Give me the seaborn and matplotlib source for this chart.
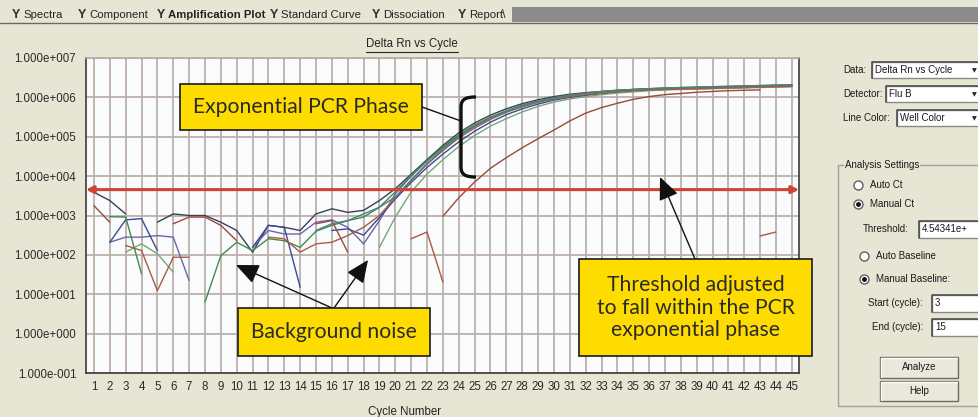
import numpy as np
import pandas as pd
import matplotlib
matplotlib.use("Agg")
import matplotlib.pyplot as plt
import seaborn as sns
from matplotlib.patches import Rectangle, FancyArrowPatch, PathPatch
from matplotlib.path import Path
from matplotlib.lines import Line2D
from matplotlib.ticker import NullLocator, FixedLocator

nan = np.nan

# ---------------- data (log10 Delta Rn) ----------------
cycles = list(range(1, 46))

well_dark = [3.59, 3.38, 3.04, nan, 2.83, 3.04, 3.00, 3.00, 2.83, 2.62,
             2.07, 2.75, 2.70, 2.62, 3.04, 3.17, 3.08, 3.13, 3.38, 3.68,
             4.05, 4.42, 4.78, 5.10, 5.35, 5.55, 5.71, 5.84, 5.94, 6.02,
             6.08, 6.12, 6.15, 6.18, 6.20, 6.22, 6.23, 6.24, 6.25, 6.26,
             6.27, 6.28, 6.29, 6.30, 6.31]
well_purple = [nan, 2.32, 2.45, 2.45, 2.49, 2.45, 1.35, nan, nan, nan,
               2.19, 2.62, 2.53, 2.53, 2.83, 2.89, 2.70, 2.28, 2.87, 3.55,
               4.00, 4.38, 4.72, 5.03, 5.28, 5.48, 5.65, 5.79, 5.90, 5.98,
               6.05, 6.10, 6.14, 6.17, 6.19, 6.21, 6.22, 6.23, 6.24, 6.25,
               6.26, 6.27, 6.28, 6.29, 6.30]
well_blue = [nan, 2.32, 2.89, 2.92, 2.11, nan, nan, nan, nan, nan,
             2.19, 2.75, 2.70, 1.18, nan, 2.62, 2.66, 2.50, 2.95, 3.42,
             3.84, 4.22, 4.56, 4.87, 5.14, 5.37, 5.56, 5.71, 5.83, 5.93,
             6.00, 6.05, 6.09, 6.13, 6.16, 6.18, 6.20, 6.21, 6.22, 6.23,
             6.24, 6.25, 6.26, 6.27, 6.28]
well_green = [nan, 2.97, 2.96, 1.52, nan, nan, nan, 0.80, 1.98, 2.32,
              2.11, 2.41, 2.36, 2.19, 2.60, 2.75, 2.87, 2.96, 3.21, 3.60,
              4.02, 4.40, 4.74, 5.05, 5.30, 5.50, 5.66, 5.80, 5.91, 5.99,
              6.06, 6.11, 6.15, 6.18, 6.20, 6.22, 6.24, 6.25, 6.26, 6.27,
              6.28, 6.29, 6.30, 6.31, 6.32]
well_lightgreen = [nan, nan, 2.07, 2.28, 2.03, 1.56, nan, nan, nan, nan,
                   nan, nan, nan, nan, nan, nan, nan, nan, 2.19, 2.96,
                   3.60, 4.05, 4.42, 4.75, 5.03, 5.27, 5.46, 5.63, 5.77, 5.88,
                   5.96, 6.02, 6.07, 6.11, 6.14, 6.17, 6.19, 6.20, 6.21, 6.22,
                   6.23, 6.24, 6.25, 6.26, 6.27]
well_brown = [nan, nan, 2.24, 2.11, 1.09, 1.94, 1.94, nan, nan, nan,
              nan, 2.45, 2.41, 2.07, 2.28, 2.32, 2.49, 2.70, 3.00, 3.45,
              3.90, 4.30, 4.65, 4.97, 5.22, 5.44, 5.62, 5.76, 5.87, 5.96,
              6.02, 6.07, 6.11, 6.14, 6.17, 6.19, 6.20, 6.21, 6.22, 6.23,
              6.24, 6.25, 6.26, 6.27, 6.28]
well_late = [3.25, 2.83, nan, nan, nan, 2.79, 2.96, 2.96, 2.75, 2.36,
             nan, nan, nan, nan, 2.79, 2.87, 2.07, nan, nan, nan,
             nan, nan, 2.98, 3.45, 3.85, 4.20, 4.47, 4.72, 4.95, 5.17,
             5.40, 5.60, 5.74, 5.85, 5.95, 6.02, 6.07, 6.10, 6.13, 6.15,
             6.17, 6.18, 6.19, nan, nan]
well_teal = [nan, nan, nan, nan, nan, nan, nan, nan, nan, nan,
             nan, nan, nan, nan, 2.62, 2.79, 2.87, 3.04, 3.21, 3.47,
             3.90, 4.32, 4.68, 5.00, 5.26, 5.47, 5.64, 5.78, 5.89, 5.98,
             6.05, 6.10, 6.14, 6.17, 6.20, 6.22, 6.23, 6.25, 6.26, 6.27,
             6.28, 6.29, 6.30, 6.31, 6.32]
well_negative = [nan] * 20 + [2.41, 2.58, 1.31] + [nan] * 19 + [2.48, 2.58, nan]

wells = {
    "A1": well_dark, "A2": well_purple, "A3": well_blue, "A4": well_green,
    "A5": well_lightgreen, "A6": well_brown, "A7": well_late,
    "A8": well_teal, "A9": well_negative,
}
well_colors = {
    "A1": "#3b3f52", "A2": "#6d64aa", "A3": "#3d4a94", "A4": "#3f8a4d",
    "A5": "#74a877", "A6": "#a85c44", "A7": "#9a4a38", "A8": "#4d7f82",
    "A9": "#a8583e",
}

threshold = 4.54341e3
y_decades = list(range(-1, 8))
tab_labels = ["Spectra", "Component", "Amplification Plot", "Standard Curve",
              "Dissociation", "Report"]

# ---------------- build long table, split at gaps ----------------
rows = []
for w, vals in wells.items():
    seg = 0
    prev_nan = True
    for c, v in zip(cycles, vals):
        if np.isnan(v):
            prev_nan = True
            continue
        if prev_nan:
            seg += 1
        prev_nan = False
        rows.append({"cycle": c, "rn": 10 ** v, "well": w, "seg": f"{w}-{seg}"})
df = pd.DataFrame(rows)

# ---------------- figure ----------------
W, H = 979, 417
BG = "#e7e6d5"
sns.set_theme(style="white")
plt.rcParams["font.family"] = ["Liberation Sans", "DejaVu Sans"]

fig = plt.figure(figsize=(W / 100, H / 100), dpi=100, facecolor=BG)


def fx(x):
    return x / W


def fy(y):
    return 1 - y / H


ax = fig.add_axes([fx(86), fy(373), fx(799) - fx(86), fy(58) - fy(373)])
ax.set_facecolor("#fafbfd")

sns.lineplot(data=df, x="cycle", y="rn", hue="well", units="seg",
             estimator=None, palette=well_colors, lw=1.0, legend=False,
             ax=ax, zorder=3)

ax.set_yscale("log")
ax.set_ylim(1e-1, 1e7)
ax.set_xlim(0.5, 45.45)
ax.yaxis.set_major_locator(FixedLocator([10.0 ** e for e in y_decades]))
ax.yaxis.set_minor_locator(NullLocator())
ax.set_yticklabels([f"1.000e{e:+04d}" for e in y_decades])
ax.set_xticks(cycles)
ax.set_xticklabels([str(c) for c in cycles])
ax.tick_params(axis="both", length=0, labelsize=8.3, colors="#2a2a2a")
ax.tick_params(axis="y", pad=7)
ax.tick_params(axis="x", pad=6)
ax.set_xlabel("")
ax.set_ylabel("")
ax.set_axisbelow(True)
ax.grid(True, which="major", color="#b9aaa6", lw=1.2)
for side, sp in ax.spines.items():
    sp.set_visible(True)
    sp.set_linewidth(1.2)
    sp.set_color("#3a3a3a" if side in ("left", "bottom", "right") else "#b0aca0")

# threshold line with arrow heads
ax.annotate("", xy=(0.0, threshold), xytext=(1.0, threshold),
            xycoords=("axes fraction", "data"),
            textcoords=("axes fraction", "data"),
            arrowprops=dict(arrowstyle="<|-|>,head_length=0.35,head_width=0.18",
                            color="#cf4535", lw=2.2, shrinkA=0, shrinkB=0),
            zorder=4)

# ---------------- tab strip ----------------
fig.add_artist(Rectangle((fx(512), fy(22)), fx(979) - fx(512), fy(7) - fy(22),
                         transform=fig.transFigure, facecolor="#8c8c8c",
                         edgecolor="none"))
fig.add_artist(Line2D([fx(0), fx(979)], [fy(22.5), fy(22.5)],
                      transform=fig.transFigure, color="#6a6a60", lw=1))
tab_x = [12, 78, 157, 270, 372, 458]
for x, lab in zip(tab_x, tab_labels):
    fig.text(fx(x), fy(15), "Y", fontsize=9, fontweight="bold",
             color="#303030", va="center", ha="left")
    fig.text(fx(x + 11), fy(15), lab, fontsize=8.2, va="center", ha="left",
             color="#222222",
             fontweight="bold" if lab == "Amplification Plot" else "normal")
fig.text(fx(502), fy(15), "\\", fontsize=9, color="#303030", va="center")

# ---------------- title and x label ----------------
title = fig.text(fx(412), fy(44), "Delta Rn vs Cycle", fontsize=8.3,
                 ha="center", va="center", color="#222222")
fig.text(fx(405), fy(406), "Cycle Number", fontsize=8.3, ha="center",
         va="top", color="#222222")
fig.canvas.draw()
bb = title.get_window_extent()
fig.add_artist(Line2D([bb.x0 / (W), bb.x1 / (W)],
                      [(bb.y0 - 1.5) / H, (bb.y0 - 1.5) / H],
                      transform=fig.transFigure, color="#222222", lw=0.8))

# ---------------- yellow call-out boxes ----------------
YEL = "#ffdc00"
BOXFONT = ["Lato", "DejaVu Sans"]


def box(x0, y0, x1, y1, text, size=15.2):
    fig.add_artist(Rectangle((fx(x0), fy(y1)), fx(x1) - fx(x0), fy(y0) - fy(y1),
                             transform=fig.transFigure, facecolor=YEL,
                             edgecolor="#1a1a1a", lw=1.2, zorder=10))
    fig.text(fx((x0 + x1) / 2), fy((y0 + y1) / 2), text, fontsize=size,
             family=BOXFONT, ha="center", va="center", color="#2a2a2a",
             linespacing=1.14, zorder=11)


def arrow(xa, ya, xb, yb):
    fig.add_artist(FancyArrowPatch((fx(xa), fy(ya)), (fx(xb), fy(yb)),
                                   transform=fig.transFigure,
                                   arrowstyle="-|>,head_length=0.5,head_width=0.22",
                                   mutation_scale=28, color="#111111", lw=1.0,
                                   shrinkA=0, shrinkB=0, zorder=9))


box(180, 84, 422, 130, "Exponential PCR Phase")
box(238, 308, 430, 356, "Background noise")
box(579, 259, 812, 356, "Threshold adjusted\nto fall within the PCR\nexponential phase")

fig.add_artist(Line2D([fx(422), fx(461)], [fy(107), fy(121)],
                      transform=fig.transFigure, color="#111111", lw=1.0,
                      zorder=9))
arrow(332, 308, 236, 265)
arrow(334, 308, 368, 260)
arrow(695, 259, 660, 177)

# bracket
bverts = [(476, 97), (466, 97), (461, 99), (461, 107), (461, 167),
          (461, 175), (466, 177), (476, 177)]
bcodes = [Path.MOVETO, Path.CURVE4, Path.CURVE4, Path.CURVE4, Path.LINETO,
          Path.CURVE4, Path.CURVE4, Path.CURVE4]
bpath = Path([(fx(x), fy(y)) for x, y in bverts], bcodes)
fig.add_artist(PathPatch(bpath, transform=fig.transFigure, facecolor="none",
                         edgecolor="#111111", lw=2.4, zorder=9))

# ---------------- right control panel ----------------
UI = 7.0


def field(x0, y0, x1, y1, text, drop=False):
    fig.add_artist(Rectangle((fx(x0), fy(y1)), fx(x1) - fx(x0), fy(y0) - fy(y1),
                             transform=fig.transFigure, facecolor="white",
                             edgecolor="#8a8a80", lw=1.0))
    fig.add_artist(Line2D([fx(x0), fx(x0), fx(x1)], [fy(y1), fy(y0), fy(y0)],
                          transform=fig.transFigure, color="#505050", lw=1.2))
    fig.text(fx(x0 + 3), fy((y0 + y1) / 2), text, fontsize=UI, va="center",
             ha="left", color="#1a1a1a")
    if drop:
        fig.text(fx(974), fy((y0 + y1) / 2 + 1), "\u25BC", fontsize=4.5,
                 va="center", ha="center", color="#222222",
                 family=["DejaVu Sans"])


def label(x, y, text):
    fig.text(fx(x), fy(y), text, fontsize=UI, va="center", ha="left",
             color="#1a1a1a")


label(843, 70, "Data:")
field(872, 62, 985, 78, "Delta Rn vs Cycle", drop=True)
label(843, 94, "Detector:")
field(886, 86, 985, 102, "Flu B", drop=True)
label(843, 118, "Line Color:")
field(897, 110, 985, 126, "Well Color", drop=True)

# group box
fig.add_artist(Rectangle((fx(838), fy(406)), fx(990) - fx(838), fy(165) - fy(406),
                         transform=fig.transFigure, facecolor="none",
                         edgecolor="#a4a294", lw=1.0))
fig.text(fx(845), fy(165), "Analysis Settings", fontsize=UI, va="center",
         color="#1a1a1a", bbox=dict(facecolor=BG, edgecolor="none", pad=0.5))


def radio(x, y, text, on):
    fig.add_artist(Line2D([fx(x)], [fy(y)], transform=fig.transFigure,
                          marker="o", ms=6.5, mfc="white", mec="#606060",
                          mew=1.0, ls="none"))
    if on:
        fig.add_artist(Line2D([fx(x)], [fy(y)], transform=fig.transFigure,
                              marker="o", ms=2.5, mfc="#111111", mec="#111111",
                              ls="none"))
    label(x + 12, y, text)


radio(858, 185, "Auto Ct", False)
radio(858, 204, "Manual Ct", True)
label(863, 229, "Threshold:")
field(919, 221, 985, 238, "4.54341e+")
radio(864, 256, "Auto Baseline", False)
radio(864, 279, "Manual Baseline:", True)
label(868, 303, "Start (cycle):")
field(932, 295, 985, 312, "3")
label(872, 327, "End (cycle):")
field(932, 319, 985, 336, "15")


def button(x0, y0, x1, y1, text):
    fig.add_artist(Rectangle((fx(x0), fy(y1)), fx(x1) - fx(x0), fy(y0) - fy(y1),
                             transform=fig.transFigure, facecolor="#e9e8da",
                             edgecolor="#6a6a60", lw=1.0))
    fig.add_artist(Line2D([fx(x0 + 1), fx(x0 + 1), fx(x1 - 1)],
                          [fy(y1 - 1), fy(y0 + 1), fy(y0 + 1)],
                          transform=fig.transFigure, color="white", lw=1.0))
    fig.text(fx((x0 + x1) / 2), fy((y0 + y1) / 2), text, fontsize=UI,
             ha="center", va="center", color="#1a1a1a")


button(880, 357, 958, 378, "Analyze")
button(880, 381, 958, 401, "Help")

fig.savefig("out.png", dpi=100, facecolor=BG)
